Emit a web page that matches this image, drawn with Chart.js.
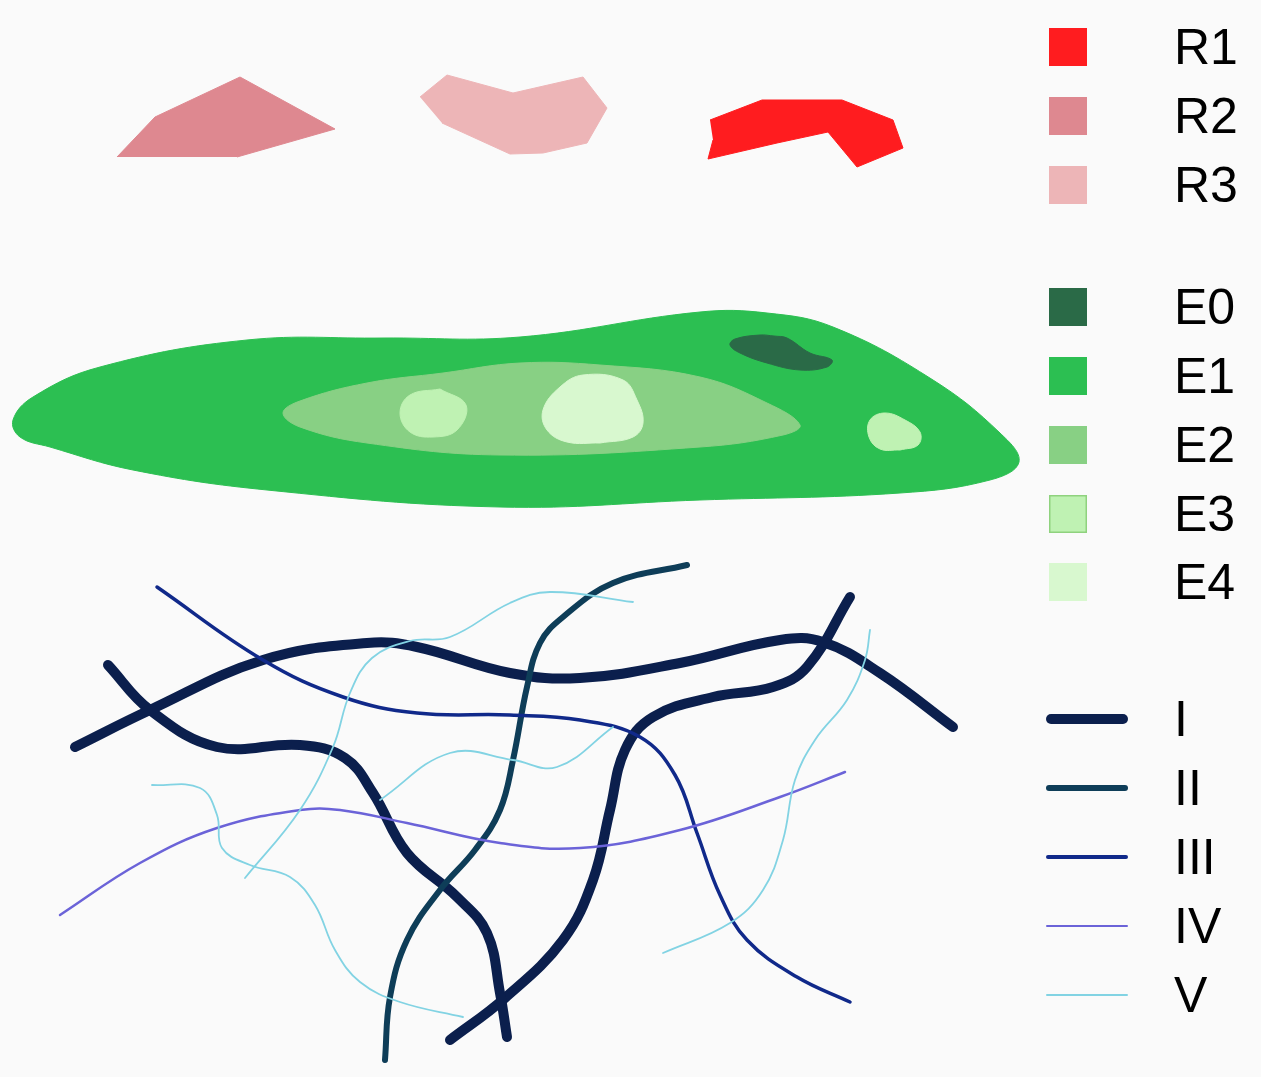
<!DOCTYPE html>
<html>
<head>
<meta charset="utf-8">
<script src="https://cdn.jsdelivr.net/npm/chart.js@4.4.1/dist/chart.umd.min.js"></script>
<style>
  body { margin: 0; background: #fafafa; }
  #wrap { position: relative; width: 1261px; height: 1077px; }
  #map { position: absolute; left: 0; top: 0; }
  .lg { position: absolute; font-family: "Liberation Sans", Arial, sans-serif; font-size: 50px; color: #000; line-height: 50px; }
  .sw { position: absolute; }
</style>
</head>
<body>
<div id="wrap">
  <canvas id="map" width="1261" height="1077"></canvas>
  <div id="legend"></div>
</div>
<script>
// region outlines, [x, y] in map units (y grows downward)
const r1 = [[710,120],[762,100],[842,100],[893,120],[903,148],[857,167],[828,132],[777,143],[708,159],[713,140]];
const r2 = [[117,157],[155,117],[240,77],[335,129],[237,157]];
const r3 = [[420,97],[447,75],[513,93],[583,77],[607,108],[587,143],[543,153],[510,154],[442,123]];

// smooth outlines start and end on a straight stretch so the join does not show
const e1 = [[384,338],[520,337],[700,312],[767,313],[833,327],[933,380],[1000,433],[1019,462],[990,480],[900,493],[700,500],
            [500,507],[267,490],[133,470],[50,447],[20,437],[13,420],[33,397],[100,367],[247,340],[384,338]];
const e2 = [[443,373],[520,363],[600,365],[700,377],[767,403],[800,425],[783,435],[700,447],[500,455],[367,443],[300,427],[283,413],
            [300,401],[367,383],[443,373]];
const e0 = [[774,336],[787,338],[810,353],[832,360],[827,367],[800,370],[767,363],[740,353],[730,345],[735,339],[760,335],[774,336]];
const e3a = [[440,389],[466,405],[457,430],[433,437],[410,432],[400,413],[410,395],[440,389]];
const e3b = [[900,450],[880,449],[869,437],[870,420],[885,413],[905,420],[920,432],[918,445],[900,450]];
const e4 = [[600,443],[567,442],[547,430],[543,410],[560,387],[583,375],[623,380],[637,400],[643,423],[633,437],[600,443]];

// line features
const lineIa = [[75,747],[150,710],[263,660],[367,643],[417,647],[510,673],[580,678],[680,663],[780,640],[823,642],[880,673],[953,727]];
const lineIb = [[108,665],[150,710],[217,747],[300,745],[345,758],[373,793],[407,853],[457,897],[487,933],[500,993],[507,1037]];
const lineIc = [[450,1040],[505,998],[563,940],[593,880],[610,810],[625,750],[653,717],[713,697],[773,687],[807,667],[850,597]];
const lineII = [[385,1060],[390,997],[407,940],[440,890],[475,850],[500,810],[513,760],[527,687],[540,643],[563,617],[613,583],[687,565]];
const lineIII = [[157,587],[263,660],[343,697],[417,713],[510,715],[580,720],[640,737],[675,775],[697,833],[720,895],[747,940],[797,977],[850,1002]];
const lineIV = [[60,915],[140,863],[217,828],[300,810],[340,810],[407,823],[500,843],[580,848],[680,830],[780,797],[845,772]];
const lineVa = [[152,785],[200,788],[217,815],[222,848],[250,865],[290,877],[315,905],[335,950],[360,982],[400,1002],[463,1017]];
const lineVb = [[245,878],[300,810],[333,747],[350,693],[372,658],[410,641],[450,637],[510,603],[550,592],[633,602]];
const lineVc = [[380,800],[450,753],[513,760],[557,767],[613,727]];
const lineVd = [[663,953],[730,923],[763,890],[783,840],[795,780],[815,740],[847,700],[865,660],[870,630]];

const areaNames = ['R1','R2','R3','E0','E1','E2','E3','E4'];
const areaColors = ['#ff1c1f','#de8890','#edb5b7','#2a6a47','#2cbf52','#88d084','#bff2b3','#d8f8cf'];
const lineNames = ['I','II','III','IV','V'];
const lineColors = ['#0b1f4d','#0e3d58','#10298a','#6b63d8','#82d3e3'];
const lineWidths = [10, 6, 3.5, 2.5, 1.8];

const pts = (arr) => arr.map(p => ({x: p[0], y: p[1]}));

function area(arr, color, order, tension) {
    return {
        data: pts(arr),
        backgroundColor: color,
        borderColor: color,
        borderWidth: 1,
        fill: 'shape',
        tension: tension,
        pointRadius: 0,
        order: order
    };
}

// k = line class index; thinner classes are drawn on top
function path(arr, k) {
    return {
        data: pts(arr),
        borderColor: lineColors[k],
        borderWidth: lineWidths[k],
        borderCapStyle: 'round',
        borderJoinStyle: 'round',
        fill: false,
        tension: 0.4,
        pointRadius: 0,
        order: 9 - k
    };
}

const datasets = [
    area(r1, areaColors[0], 20, 0),
    area(r2, areaColors[1], 20, 0),
    area(r3, areaColors[2], 20, 0),
    area(e1, areaColors[4], 30, 0.4),
    area(e2, areaColors[5], 29, 0.4),
    area(e0, areaColors[3], 28, 0.4),
    area(e3a, areaColors[6], 28, 0.4),
    area(e3b, areaColors[6], 28, 0.4),
    area(e4, areaColors[7], 28, 0.4),
    path(lineIa, 0), path(lineIb, 0), path(lineIc, 0),
    path(lineII, 1),
    path(lineIII, 2),
    path(lineIV, 3),
    path(lineVa, 4), path(lineVb, 4), path(lineVc, 4), path(lineVd, 4)
];

new Chart(document.getElementById('map'), {
    type: 'line',
    data: { datasets: datasets },
    options: {
        responsive: false,
        animation: false,
        layout: { padding: 0 },
        scales: {
            x: { type: 'linear', min: 0, max: 1261, display: false },
            y: { type: 'linear', min: 0, max: 1077, reverse: true, display: false }
        },
        plugins: { legend: { display: false }, tooltip: { enabled: false } }
    }
});

// legend
const legend = document.getElementById('legend');
const areaRows = [47, 116, 185, 307, 376, 445, 514, 582];
areaNames.forEach((name, i) => {
    const sw = document.createElement('div');
    sw.className = 'sw';
    sw.style.cssText = `left:1049px;top:${areaRows[i] - 19}px;width:38px;height:38px;background:${areaColors[i]};`;
    if (name === 'E3') sw.style.boxShadow = 'inset 0 0 0 1.5px #8fd27e';
    legend.appendChild(sw);
    const t = document.createElement('div');
    t.className = 'lg';
    t.style.cssText = `left:1174px;top:${areaRows[i] - 25}px;`;
    t.textContent = name;
    legend.appendChild(t);
});
const lineRows = [719, 788, 857, 926, 995];
lineNames.forEach((name, i) => {
    const sw = document.createElement('div');
    sw.className = 'sw';
    const h = lineWidths[i];
    sw.style.cssText = `left:1046px;top:${lineRows[i] - h / 2}px;width:82px;height:${h}px;border-radius:${h}px;background:${lineColors[i]};`;
    legend.appendChild(sw);
    const t = document.createElement('div');
    t.className = 'lg';
    t.style.cssText = `left:1174px;top:${lineRows[i] - 25}px;`;
    t.textContent = name;
    legend.appendChild(t);
});
</script>
</body>
</html>
